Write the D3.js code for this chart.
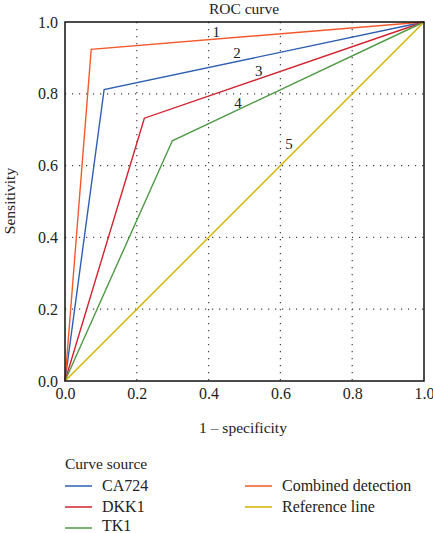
<!DOCTYPE html>
<html><head><meta charset="utf-8">
<script src="https://cdn.jsdelivr.net/npm/d3@7"></script>
<style>body{margin:0;background:#fff}svg{display:block}text{font-family:"Liberation Serif","DejaVu Serif",serif;fill:#222}</style>
</head><body><svg id="c" width="433" height="533"></svg>
<script>
const seriesNames = ["CA724","DKK1","TK1","Combined detection","Reference line"];
const seriesColors = ["#2f5fb3","#d2232f","#4f9a45","#f25a2b","#d2b200"];
const fpr = {
  "CA724": [0, 0.109, 1],
  "DKK1": [0, 0.221, 1],
  "TK1": [0, 0.299, 1],
  "Combined detection": [0, 0.073, 1],
  "Reference line": [0, 1]
};
const tpr = {
  "CA724": [0, 0.812, 1],
  "DKK1": [0, 0.732, 1],
  "TK1": [0, 0.669, 1],
  "Combined detection": [0, 0.924, 1],
  "Reference line": [0, 1]
};
const curveLabels = ["1","2","3","4","5"];
const labelPosX = [0.421, 0.479, 0.540, 0.482, 0.624];
const labelPosY = [0.972, 0.914, 0.864, 0.774, 0.660];
const ticks = [0, 0.2, 0.4, 0.6, 0.8, 1.0];

const FONT = "'Liberation Serif','DejaVu Serif',serif";
const svg = d3.select("#c");
const L=65, R=424, T=22, B=381;
const x = d3.scaleLinear().domain([0,1]).range([L,R]);
const y = d3.scaleLinear().domain([0,1]).range([B,T]);
const color = d3.scaleOrdinal().domain(seriesNames).range(seriesColors);

// grid
const g = svg.append("g");
[0.2,0.4,0.6,0.8].forEach(t=>{
  g.append("line").attr("x1",x(t)).attr("x2",x(t)).attr("y1",T).attr("y2",B)
    .attr("stroke","#444").attr("stroke-width",1.2).attr("stroke-dasharray","1.2,5.8");
  g.append("line").attr("x1",L).attr("x2",R).attr("y1",y(t)).attr("y2",y(t))
    .attr("stroke","#444").attr("stroke-width",1.2).attr("stroke-dasharray","1.2,5.8");
});

// lines
const line = d3.line().x(d=>x(d[0])).y(d=>y(d[1]));
seriesNames.forEach(n=>{
  const pts = fpr[n].map((v,i)=>[v,tpr[n][i]]);
  svg.append("path").attr("d",line(pts)).attr("fill","none")
    .attr("stroke",color(n)).attr("stroke-width",1.4);
});

// frame
svg.append("rect").attr("x",L).attr("y",T).attr("width",R-L).attr("height",B-T)
  .attr("fill","none").attr("stroke","#111").attr("stroke-width",1.5);

// axes
const xa = svg.append("g").attr("transform",`translate(0,${B})`)
  .call(d3.axisBottom(x).tickValues(ticks).tickFormat(d3.format(".1f")).tickSize(0).tickPadding(7));
const ya = svg.append("g").attr("transform",`translate(${L},0)`)
  .call(d3.axisLeft(y).tickValues(ticks).tickFormat(d3.format(".1f")).tickSize(0).tickPadding(7));
[xa,ya].forEach(a=>{a.attr("font-family",FONT);a.select(".domain").remove();a.selectAll("text").style("font-size","16px").style("font-family",FONT).attr("fill","#222");});

// curve labels
curveLabels.forEach((t,i)=>{
  svg.append("text").attr("x",x(labelPosX[i])).attr("y",y(labelPosY[i]))
    .attr("text-anchor","middle").attr("dy","0.35em")
    .style("font-size","15px").style("font-family",FONT).text(t);
});

// title and axis labels
svg.append("text").attr("x",244).attr("y",14).attr("text-anchor","middle").style("font-size","15.5px").style("font-family",FONT).text("ROC curve");
svg.append("text").attr("x",243).attr("y",433).attr("text-anchor","middle").style("font-size","15.5px").style("font-family",FONT).text("1 – specificity");
svg.append("text").attr("transform","translate(15,201) rotate(-90)").attr("text-anchor","middle").style("font-size","15.5px").style("font-family",FONT).text("Sensitivity");

// legend
svg.append("text").attr("x",65).attr("y",469).style("font-size","15.5px").style("font-family",FONT).text("Curve source");
const legPos = [[65,486],[65,507],[65,528],[245,486],[245,507]];
seriesNames.forEach((n,i)=>{
  const [lx,ly]=legPos[i];
  svg.append("line").attr("x1",lx).attr("x2",lx+27).attr("y1",ly).attr("y2",ly)
    .attr("stroke",color(n)).attr("stroke-width",1.5);
  svg.append("text").attr("x",lx+37).attr("y",Math.min(ly+5,531)).style("font-size","16px").style("font-family",FONT).text(n);
});
</script></body></html>
